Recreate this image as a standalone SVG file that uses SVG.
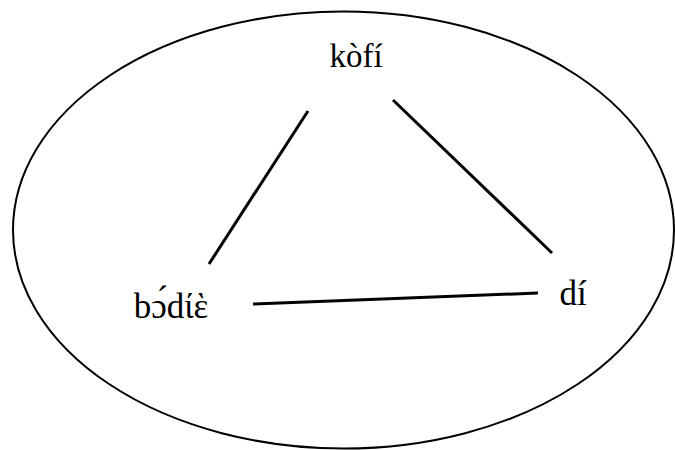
<svg xmlns="http://www.w3.org/2000/svg" width="675" height="450" viewBox="0 0 675 450">
<style>
.lbl{font-family:"Liberation Serif","DejaVu Serif",serif;font-size:33px;fill:#000}
.edge{stroke:#000;stroke-width:3;fill:none}
</style>
<rect width="675" height="450" fill="#fff"/>
<ellipse id="boundary" cx="343.5" cy="230" rx="330.5" ry="218.5" fill="none" stroke="#000" stroke-width="2"/>
<g id="connectors">
<line class="edge" x1="308" y1="111" x2="209" y2="264"/>
<line class="edge" x1="393" y1="100" x2="552" y2="253"/>
<line class="edge" x1="253" y1="304" x2="538" y2="293"/>
</g>
<g id="node-kofi"><text class="lbl" x="356" y="67" text-anchor="middle">kòfí</text></g>
<g id="node-bodie"><text class="lbl" x="171" y="318" text-anchor="middle" style="font-size:35px">bɔ́dίὲ</text></g>
<g id="node-di"><text class="lbl" x="573" y="305" text-anchor="middle" style="font-size:35px">dí</text></g>
</svg>
